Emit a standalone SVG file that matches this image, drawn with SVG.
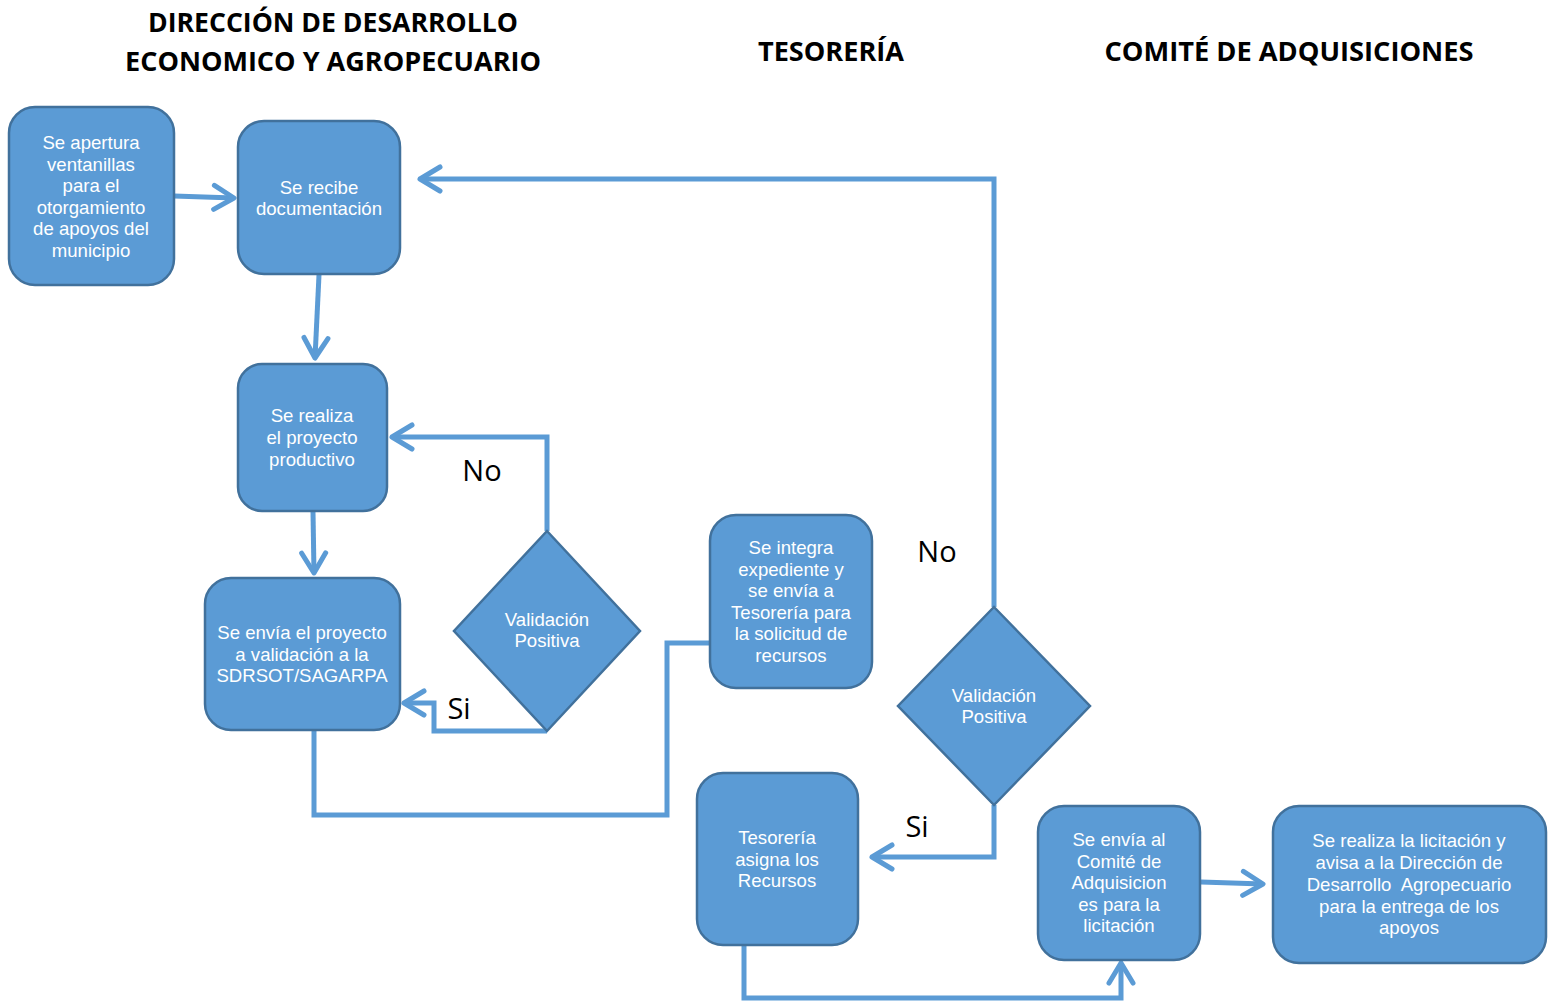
<svg xmlns="http://www.w3.org/2000/svg" width="1552" height="1002" viewBox="0 0 1552 1002">
<style>
.node{fill:#5B9BD5;stroke:#41719C;stroke-width:2.5}
.nt{font-family:"Liberation Sans",Arial,sans-serif;font-size:18.6px;fill:#fff;text-anchor:middle}
.hd{font-family:"Open Sans","Liberation Sans",sans-serif;font-weight:bold;font-size:27px;fill:#000;text-anchor:middle}
.lb{font-family:"Open Sans","Liberation Sans",sans-serif;font-size:29px;fill:#000;text-anchor:middle}
.cn{fill:none;stroke:#5B9BD5;stroke-width:5;stroke-linejoin:miter}
</style>
<defs>
<marker id="arr" markerUnits="userSpaceOnUse" viewBox="-26 -16 30 32" refX="0" refY="0" markerWidth="30" markerHeight="32" orient="auto" overflow="visible">
<path d="M -20 -12 L 0 0 L -20 12" fill="none" stroke="#5B9BD5" stroke-width="5" stroke-linecap="round" stroke-linejoin="round"/>
</marker>
</defs>
<rect width="1552" height="1002" fill="#fff"/>
<g id="headers">
<text class="hd" x="333" y="32" textLength="370" lengthAdjust="spacingAndGlyphs">DIRECCIÓN DE DESARROLLO</text>
<text class="hd" x="333" y="71" textLength="416" lengthAdjust="spacingAndGlyphs">ECONOMICO Y AGROPECUARIO</text>
<text class="hd" x="831" y="61" textLength="146" lengthAdjust="spacingAndGlyphs">TESORERÍA</text>
<text class="hd" x="1289" y="61" textLength="369" lengthAdjust="spacingAndGlyphs">COMITÉ DE ADQUISICIONES</text>
</g>
<g id="connectors">
<path class="cn" d="M174 196 L234 198" marker-end="url(#arr)"/>
<path class="cn" d="M319 275 L315 358" marker-end="url(#arr)"/>
<path class="cn" d="M313 512 L314 573" marker-end="url(#arr)"/>
<path class="cn" d="M547 531 L547 437 L392 437" marker-end="url(#arr)"/>
<path class="cn" d="M547 731 L434 731 L434 703 L404 703" marker-end="url(#arr)"/>
<path class="cn" d="M314 731 L314 815 L667 815 L667 643 L710 643"/>
<path class="cn" d="M994 607 L994 179 L420 179" marker-end="url(#arr)"/>
<path class="cn" d="M994 805 L994 857 L872 857" marker-end="url(#arr)"/>
<path class="cn" d="M744 946 L744 998 L1121 998 L1121 963" marker-end="url(#arr)"/>
<path class="cn" d="M1201 882 L1263 884" marker-end="url(#arr)"/>
<text class="lb" x="482" y="481">No</text>
<text class="lb" x="459" y="719">Si</text>
<text class="lb" x="937" y="562">No</text>
<text class="lb" x="917" y="837">Si</text>
</g>
<g id="n1">
<rect class="node" x="9" y="107" width="165" height="178" rx="26"/>
<text class="nt" x="91" y="149">Se apertura</text>
<text class="nt" x="91" y="171">ventanillas</text>
<text class="nt" x="91" y="192">para el</text>
<text class="nt" x="91" y="214">otorgamiento</text>
<text class="nt" x="91" y="235">de apoyos del</text>
<text class="nt" x="91" y="257">municipio</text>
</g>
<g id="n2">
<rect class="node" x="238" y="121" width="162" height="153" rx="26"/>
<text class="nt" x="319" y="194">Se recibe</text>
<text class="nt" x="319" y="215">documentación</text>
</g>
<g id="n3">
<rect class="node" x="238" y="364" width="149" height="147" rx="24"/>
<text class="nt" x="312" y="422">Se realiza</text>
<text class="nt" x="312" y="444">el proyecto</text>
<text class="nt" x="312" y="466">productivo</text>
</g>
<g id="n4">
<rect class="node" x="205" y="578" width="195" height="152" rx="26"/>
<text class="nt" x="302" y="639">Se envía el proyecto</text>
<text class="nt" x="302" y="661">a validación a la</text>
<text class="nt" x="302" y="682">SDRSOT/SAGARPA</text>
</g>
<g id="d1">
<polygon class="node" points="547,531 640,631 547,731 454,631"/>
<text class="nt" x="547" y="626">Validación</text>
<text class="nt" x="547" y="647">Positiva</text>
</g>
<g id="n5">
<rect class="node" x="710" y="515" width="162" height="173" rx="26"/>
<text class="nt" x="791" y="554">Se integra</text>
<text class="nt" x="791" y="576">expediente y</text>
<text class="nt" x="791" y="597">se envía a</text>
<text class="nt" x="791" y="619">Tesorería para</text>
<text class="nt" x="791" y="640">la solicitud de</text>
<text class="nt" x="791" y="662">recursos</text>
</g>
<g id="d2">
<polygon class="node" points="994,607 1090,706 994,805 898,706"/>
<text class="nt" x="994" y="702">Validación</text>
<text class="nt" x="994" y="723">Positiva</text>
</g>
<g id="n6">
<rect class="node" x="697" y="773" width="161" height="172" rx="26"/>
<text class="nt" x="777" y="844">Tesorería</text>
<text class="nt" x="777" y="866">asigna los</text>
<text class="nt" x="777" y="887">Recursos</text>
</g>
<g id="n7">
<rect class="node" x="1038" y="806" width="162" height="154" rx="26"/>
<text class="nt" x="1119" y="846">Se envía al</text>
<text class="nt" x="1119" y="868">Comité de</text>
<text class="nt" x="1119" y="889">Adquisicion</text>
<text class="nt" x="1119" y="911">es para la</text>
<text class="nt" x="1119" y="932">licitación</text>
</g>
<g id="n8">
<rect class="node" x="1273" y="806" width="273" height="157" rx="26"/>
<text class="nt" x="1409" y="847">Se realiza la licitación y</text>
<text class="nt" x="1409" y="869">avisa a la Dirección de</text>
<text class="nt" x="1409" y="891" style="white-space:pre">Desarrollo  Agropecuario</text>
<text class="nt" x="1409" y="913">para la entrega de los</text>
<text class="nt" x="1409" y="934">apoyos</text>
</g>
</svg>
